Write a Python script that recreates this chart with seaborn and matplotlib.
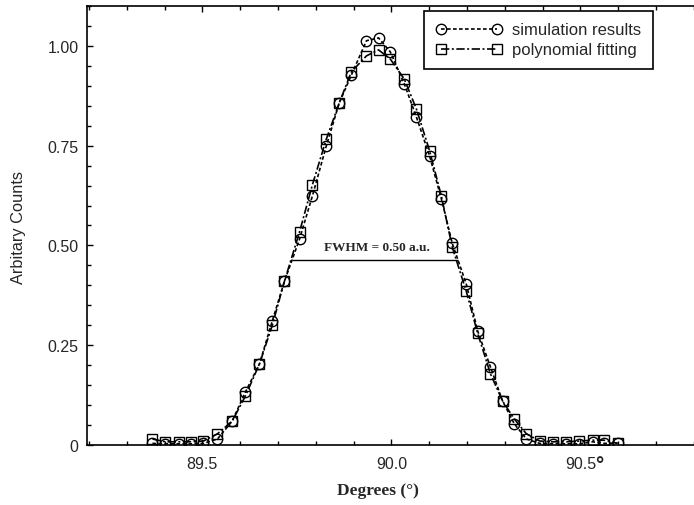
# %% rocking curve: simulation vs polynomial fit

import matplotlib
matplotlib.use('Agg')
import matplotlib.pyplot as plt
import pandas as pd
import seaborn as sns
from matplotlib.ticker import MultipleLocator, FixedLocator

# data
degrees = [89.368, 89.402, 89.437, 89.471, 89.503, 89.540, 89.579, 89.614,
           89.651, 89.685, 89.717, 89.757, 89.791, 89.828, 89.862, 89.894,
           89.934, 89.966, 89.997, 90.034, 90.066, 90.101, 90.132, 90.161,
           90.198, 90.228, 90.262, 90.294, 90.325, 90.357, 90.392, 90.426,
           90.463, 90.497, 90.532, 90.563, 90.598]
simulation = [0.004, 0.003, 0.003, 0.003, 0.004, 0.015, 0.060, 0.133,
              0.203, 0.311, 0.410, 0.516, 0.624, 0.750, 0.857, 0.927,
              1.013, 1.020, 0.985, 0.905, 0.822, 0.724, 0.617, 0.505,
              0.403, 0.286, 0.195, 0.110, 0.053, 0.015, 0.004, 0.003,
              0.003, 0.003, 0.008, 0.004, 0.005]
fitting = [0.015, 0.008, 0.008, 0.008, 0.010, 0.028, 0.060, 0.123,
           0.203, 0.300, 0.410, 0.534, 0.652, 0.767, 0.857, 0.935,
           0.975, 0.990, 0.967, 0.917, 0.842, 0.737, 0.624, 0.495,
           0.385, 0.280, 0.178, 0.110, 0.065, 0.028, 0.010, 0.008,
           0.008, 0.010, 0.012, 0.012, 0.004]
fwhm_level = 0.464
fwhm_left, fwhm_right = 89.738, 90.175

df = pd.DataFrame({'deg': degrees, 'sim': simulation, 'fit': fitting})

sns.set_style('ticks')
plt.rcParams['font.family'] = ['Liberation Sans', 'DejaVu Sans']

fig = plt.figure(figsize=(6.94, 5.06), dpi=100)
ax = fig.add_axes([0.1254, 0.1186, 0.8745, 0.8676])

sns.lineplot(data=df, x='deg', y='sim', ax=ax, color='black', lw=1.2,
             linestyle=(0, (2.2, 1.4)), marker='o', markersize=7.5,
             markerfacecolor='none', markeredgecolor='black',
             markeredgewidth=1.0, label='simulation results')
sns.lineplot(data=df, x='deg', y='fit', ax=ax, color='black', lw=1.2,
             linestyle=(0, (5, 1.5, 1.2, 1.5)), marker='s', markersize=7,
             markerfacecolor='none', markeredgecolor='black',
             markeredgewidth=1.0, label='polynomial fitting')

ax.hlines(fwhm_level, fwhm_left, fwhm_right, color='black', lw=1.0)
ax.text((fwhm_left + fwhm_right) / 2 + 0.005, fwhm_level + 0.018,
        'FWHM = 0.50 a.u.', ha='center', va='bottom', fontsize=9.5,
        fontweight='bold', family=['Liberation Serif', 'DejaVu Serif'])

ax.set_xlim(89.195, 90.8)
ax.set_ylim(0, 1.1)
ax.xaxis.set_major_locator(FixedLocator([89.5, 90.0, 90.5]))
ax.xaxis.set_minor_locator(MultipleLocator(0.1))
ax.yaxis.set_major_locator(FixedLocator([0, 0.25, 0.5, 0.75, 1.0]))
ax.yaxis.set_minor_locator(MultipleLocator(0.05))
ax.set_xticklabels(['89.5', '90.0', '90.5'])
ax.set_yticklabels(['0', '0.25', '0.50', '0.75', '1.00'])
ax.tick_params(which='both', direction='in', top=True, right=False,
               labelsize=11.5, width=1.0, color='black')
ax.tick_params(which='major', length=4)
ax.tick_params(axis='x', which='major', pad=8)
ax.tick_params(axis='y', which='major', pad=6)
ax.tick_params(which='minor', length=3)
# stray degree mark next to the 90.5 label
ax.text(90.54, -0.05, '°', fontsize=15, fontweight='bold',
        ha='left', va='center', clip_on=False)

for side in ['left', 'bottom', 'top']:
    ax.spines[side].set_color('black')
    ax.spines[side].set_linewidth(1.2)
ax.spines['right'].set_visible(False)

ax.set_ylabel('Arbitary Counts', fontsize=11.8)
ax.yaxis.set_label_coords(-0.1005, 0.497)
ax.set_xlabel('Degrees (°)', fontsize=12.5, fontweight='bold',
              family=['Liberation Serif', 'DejaVu Serif'])
ax.xaxis.set_label_coords(0.48, -0.085)

leg = ax.legend(loc='upper right', bbox_to_anchor=(0.9325, 0.989),
                borderaxespad=0, fontsize=12, handlelength=4.0,
                handletextpad=0.6, numpoints=2,
                frameon=True, fancybox=False, edgecolor='black',
                framealpha=1, borderpad=0.7, labelspacing=0.3)
leg.get_frame().set_linewidth(1.2)

fig.savefig('out.png', dpi=100)
